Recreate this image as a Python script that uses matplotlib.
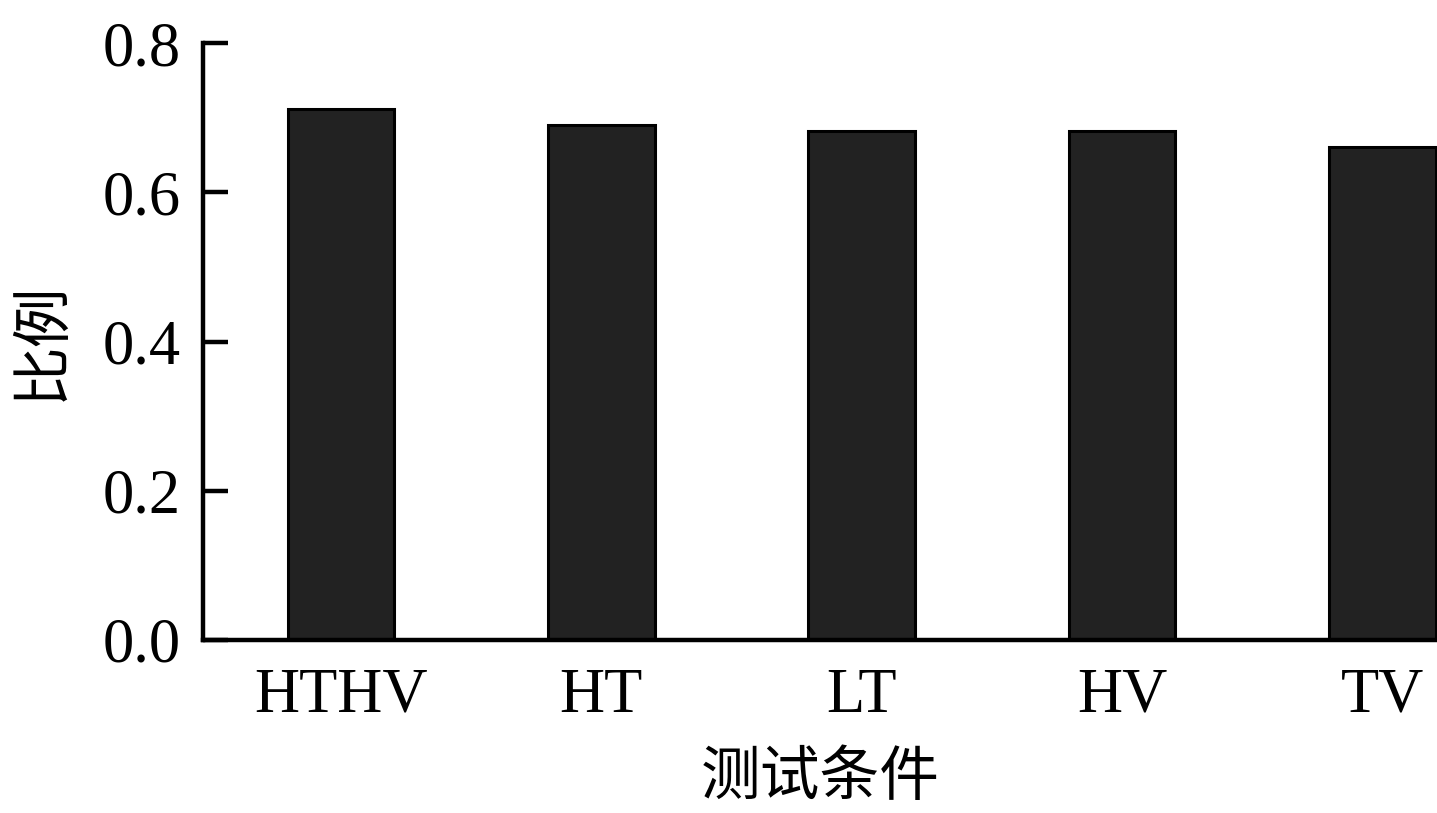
import numpy as np
import matplotlib.pyplot as plt

# 数据
conditions = ['HTHV', 'HT', 'LT', 'HV', 'TV']
ratios = [0.712, 0.690, 0.682, 0.682, 0.661]
yticks = [0.0, 0.2, 0.4, 0.6, 0.8]

plt.rcParams['font.family'] = ['Liberation Serif', 'Noto Sans CJK SC']

fig = plt.figure(figsize=(14.37, 8.13), dpi=100)
ax = fig.add_axes([0.1413, 0.2128, 0.8587, 0.7343])

x = np.arange(len(conditions))
ax.bar(x, ratios, width=0.41, color='#222222', edgecolor='black', linewidth=2.2)

ax.set_xlim(-0.53, 4.21)
ax.set_ylim(0, 0.8)
ax.set_yticks(yticks)
ax.set_yticklabels([f'{v:.1f}' for v in yticks])
ax.set_xticks(x)
ax.set_xticklabels(conditions)

ax.spines['top'].set_visible(False)
ax.spines['right'].set_visible(False)
for s in ['left', 'bottom']:
    ax.spines[s].set_linewidth(3.2)

ax.tick_params(axis='y', direction='in', length=18, width=3.2, pad=16, labelsize=45)
ax.tick_params(axis='x', length=0, pad=20, labelsize=45)

ax.set_xlabel('测试条件', fontsize=43, family=['Noto Sans CJK SC'], labelpad=16)
ax.set_ylabel('比例', fontsize=43, family=['Noto Sans CJK SC'], labelpad=22)

fig.savefig('out.png', dpi=100)
